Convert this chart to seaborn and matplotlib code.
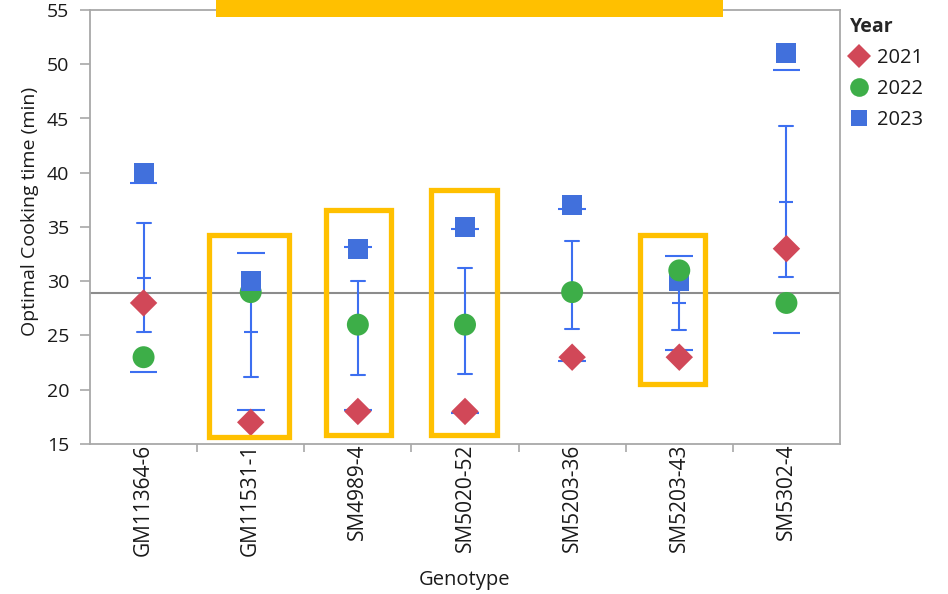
import matplotlib
matplotlib.use("Agg")
import matplotlib.pyplot as plt
from matplotlib.patches import Rectangle
from matplotlib.ticker import FixedLocator, MultipleLocator
import numpy as np
import pandas as pd
import seaborn as sns

# --- data -------------------------------------------------------------
genotypes = ["GM11364-6", "GM11531-1", "SM4989-4", "SM5020-52",
             "SM5203-36", "SM5203-43", "SM5302-4"]
years = ["2021", "2022", "2023"]

# one row per observation, in table row order
obs_genotype = ["GM11364-6", "GM11364-6", "GM11364-6",
                "GM11531-1", "GM11531-1", "GM11531-1",
                "SM4989-4", "SM4989-4", "SM4989-4",
                "SM5020-52", "SM5020-52", "SM5020-52",
                "SM5203-36", "SM5203-36", "SM5203-36",
                "SM5203-43", "SM5203-43", "SM5203-43",
                "SM5302-4", "SM5302-4", "SM5302-4"]
obs_year = ["2021", "2022", "2023",
            "2021", "2022", "2023",
            "2021", "2022", "2023",
            "2021", "2022", "2023",
            "2021", "2022", "2023",
            "2021", "2023", "2022",
            "2021", "2022", "2023"]
obs_time = [28, 23, 40,
            17, 29, 30,
            18, 26, 33,
            18, 26, 35,
            23, 29, 37,
            23, 30, 31,
            33, 28, 51]

# highlighted groups: (genotype, left, right, lower, upper) in data units
highlights = [
    ("GM11531-1", 0.615, 1.357, 15.6, 34.3),
    ("SM4989-4", 1.707, 2.314, 15.85, 36.55),
    ("SM5020-52", 2.687, 3.297, 15.85, 38.45),
    ("SM5203-43", 4.631, 5.241, 20.5, 34.3),
]
banner = (0.676, 5.41, 54.35, 56.5)

df = pd.DataFrame({"Genotype": obs_genotype, "Year": obs_year,
                   "Time": obs_time})

# --- style ------------------------------------------------------------
sns.set_theme(style="white")
plt.rcParams["font.family"] = ["Open Sans", "DejaVu Sans"]

palette = {"2021": "#d14858", "2022": "#3dae48", "2023": "#4170dc"}
markers = {"2021": "D", "2022": "o", "2023": "s"}
marker_sizes = {"2021": 195, "2022": 250, "2023": 205}
bar_color = "#3d6ff0"
grey = "#a8a8a8"
text_color = "#1a1a1a"

fig = plt.figure(figsize=(9.48, 5.94), dpi=100)
ax = fig.add_axes([90 / 948, 1 - 444 / 594, 750 / 948, 434 / 594])

# mean tick with standard-error bars
sns.pointplot(data=df, x="Genotype", y="Time", order=genotypes,
              errorbar="se", capsize=0.13, color=bar_color,
              linestyle="none", marker="_", markersize=10,
              markeredgewidth=1.5, err_kws={"linewidth": 1.5},
              ax=ax, zorder=2)

# standard-deviation lines
stats = df.groupby("Genotype")["Time"].agg(["mean", "std"]).reindex(genotypes)
pos = np.arange(len(genotypes))
ax.hlines(stats["mean"] - stats["std"], pos - 0.13, pos + 0.13,
          color=bar_color, linewidth=1.5, zorder=2)
ax.hlines(stats["mean"] + stats["std"], pos - 0.13, pos + 0.13,
          color=bar_color, linewidth=1.5, zorder=2)

# grand mean
ax.axhline(df["Time"].mean(), color="#8c8c8c", linewidth=1.5, zorder=1)

# observations
sns.scatterplot(data=df, x="Genotype", y="Time", hue="Year", style="Year",
                size="Year", hue_order=years, style_order=years,
                size_order=years, palette=palette, markers=markers,
                sizes=marker_sizes, linewidth=0, ax=ax, zorder=3,
                legend=True)

# highlight frames
for _, x0, x1, y0, y1 in highlights:
    ax.add_patch(Rectangle((x0, y0), x1 - x0, y1 - y0, fill=False,
                           edgecolor="#ffc000", linewidth=3.8, zorder=4,
                           joinstyle="miter"))
bx0, bx1, by0, by1 = banner
ax.add_patch(Rectangle((bx0, by0), bx1 - bx0, by1 - by0, facecolor="#ffc000",
                       edgecolor="none", zorder=4, clip_on=False))

# --- axes ---------------------------------------------------------------
ax.set_xlim(-0.5, len(genotypes) - 0.5)
ax.set_ylim(15, 55)
ax.yaxis.set_major_locator(MultipleLocator(5))
ax.xaxis.set_minor_locator(FixedLocator(np.arange(0.5, len(genotypes) - 1, 1)))
for side in ["left", "bottom", "top", "right"]:
    ax.spines[side].set_visible(True)
    ax.spines[side].set_color(grey)
    ax.spines[side].set_linewidth(1.3)

ax.tick_params(axis="y", which="major", direction="out", length=7,
               width=1.2, color=grey, pad=8, labelsize=14,
               labelcolor=text_color, left=True)
ax.tick_params(axis="x", which="major", length=0, pad=0, labelsize=15,
               labelcolor=text_color, labelrotation=90)
ax.tick_params(axis="x", which="minor", direction="out", length=6,
               width=1.2, color=grey, bottom=True)

ax.set_ylabel("Optimal Cooking time (min)", fontsize=14, color=text_color)
ax.yaxis.set_label_coords(-0.068, 0.537)
ax.set_xlabel("Genotype", fontsize=14.5, color=text_color, labelpad=10)

# legend
handles, labels = ax.get_legend_handles_labels()
leg = ax.legend(handles, labels, title="Year", loc="upper left",
                bbox_to_anchor=(1.0, 1.008), frameon=False, fontsize=14.5,
                title_fontsize=14, alignment="left", handletextpad=0.45,
                labelspacing=0.55, borderaxespad=0.1, handlelength=0.9,
                markerscale=0.85)
leg.get_title().set_fontweight("bold")
for t in leg.get_texts():
    t.set_color(text_color)

fig.savefig("out.png", dpi=100)
